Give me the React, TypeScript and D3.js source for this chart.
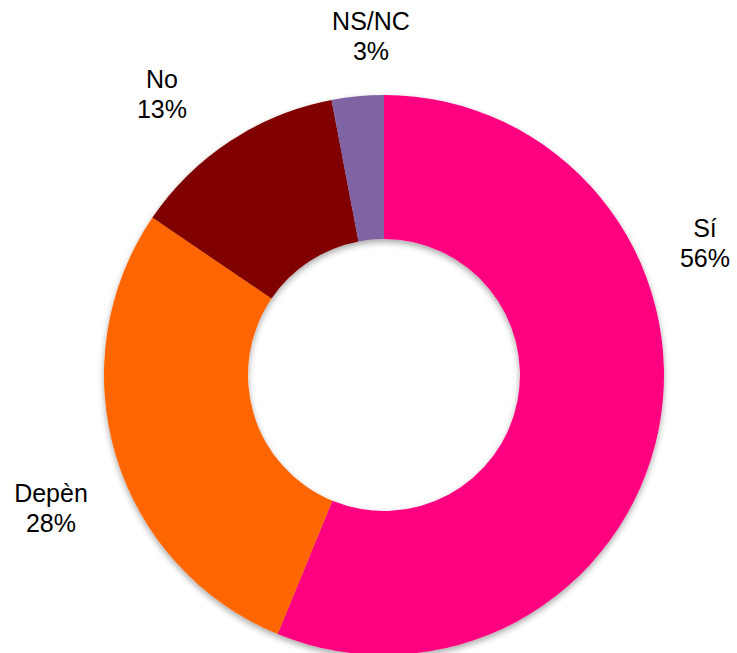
import React from "react";
import * as d3 from "d3";

const categories = ["Sí", "Depèn", "No", "NS/NC"];
const values = [56.2, 28.3, 12.5, 3.0];
const labels = ["56%", "28%", "13%", "3%"];
const colors = ["#FF0080", "#FF6600", "#800000", "#8064A2"];
// label anchor positions (centre x, first baseline y)
const labelPos: [number, number][] = [
  [705, 237],
  [51, 502],
  [162, 88],
  [371, 30],
];

export default function App() {
  const width = 737;
  const height = 653;
  const cx = 384;
  const cy = 375;
  const outer = 280;
  const inner = 136;

  const pie = d3
    .pie<number>()
    .sort(null)
    .startAngle(0)
    .endAngle(2 * Math.PI)
    .value((d) => d);
  const arcs = pie(values);
  const arc = d3.arc<d3.PieArcDatum<number>>().innerRadius(inner).outerRadius(outer);

  return (
    <svg
      width={width}
      height={height}
      style={{ position: "absolute", left: 0, top: 0, background: "#fff" }}
    >
      <defs>
        <filter id="shadow" x="-20%" y="-20%" width="140%" height="140%">
          <feDropShadow dx="0" dy="3" stdDeviation="3" floodColor="#000" floodOpacity="0.35" />
        </filter>
      </defs>
      <g transform={`translate(${cx},${cy})`} filter="url(#shadow)">
        {arcs.map((a, i) => (
          <path key={categories[i]} d={arc(a) || ""} fill={colors[i]} />
        ))}
      </g>
      <g fontFamily="Liberation Sans, Arial, sans-serif" fontSize={25} fill="#000" textAnchor="middle">
        {categories.map((c, i) => (
          <text key={c} x={labelPos[i][0]} y={labelPos[i][1]}>
            <tspan x={labelPos[i][0]}>{c}</tspan>
            <tspan x={labelPos[i][0]} dy={30}>
              {labels[i]}
            </tspan>
          </text>
        ))}
      </g>
    </svg>
  );
}
